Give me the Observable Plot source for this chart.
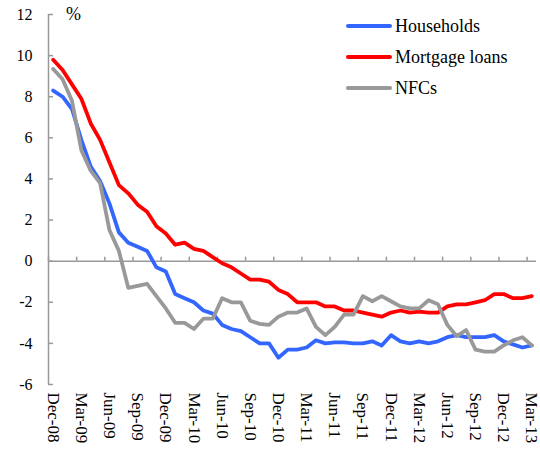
<!DOCTYPE html>
<html>
<head>
<meta charset="utf-8">
<script src="https://cdn.jsdelivr.net/npm/d3@7"></script>
<script src="https://cdn.jsdelivr.net/npm/@observablehq/plot@0.6"></script>
<style>
  html, body { margin: 0; padding: 0; background: #fff; }
  #wrap { position: relative; width: 540px; height: 450px; font-family: "Liberation Serif", "Times New Roman", serif; color: #000; }
  #wrap svg { display: block; }
  .unit { position: absolute; left: 66px; top: 3px; font-size: 18px; line-height: 22px; }
  .legend { position: absolute; left: 346px; top: 10.5px; font-size: 18px; }
  .legend .row { display: flex; align-items: center; height: 31px; line-height: 31px; }
  .legend .sw { width: 46px; height: 4px; border-radius: 2px; margin-right: 3px; }
</style>
</head>
<body>
<div id="wrap"></div>
<script>
// Month tick labels (every third month, Dec-08 .. Mar-13)
const tickLabels = ["Dec-08","Mar-09","Jun-09","Sep-09","Dec-09","Mar-10","Jun-10","Sep-10","Dec-10",
                    "Mar-11","Jun-11","Sep-11","Dec-11","Mar-12","Jun-12","Sep-12","Dec-12","Mar-13"];
const yTicks = [-6, -4, -2, 0, 2, 4, 6, 8, 10, 12];
const seriesNames = ["Households", "Mortgage loans", "NFCs"];
const seriesColors = ["#3366ff", "#ff0000", "#999999"];

// Monthly values, Dec-08 .. Mar-13 (52 months), %
const households = [8.3, 8.0, 7.4, 5.9, 4.6, 3.9, 2.8, 1.4, 0.9, 0.7,
                    0.5, -0.3, -0.5, -1.6, -1.8, -2.0, -2.4, -2.55, -3.1, -3.3,
                    -3.4, -3.7, -4.0, -4.0, -4.7, -4.3, -4.3, -4.2, -3.85, -4.0,
                    -3.95, -3.95, -4.0, -4.0, -3.9, -4.1, -3.6, -3.9, -4.0, -3.9,
                    -4.0, -3.9, -3.7, -3.6, -3.7, -3.7, -3.7, -3.6, -3.9, -4.05,
                    -4.2, -4.1];
const mortgage = [9.8, 9.3, 8.6, 7.9, 6.7, 5.9, 4.8, 3.7, 3.3, 2.75,
                  2.4, 1.7, 1.35, 0.8, 0.9, 0.6, 0.5, 0.2, -0.1, -0.3,
                  -0.6, -0.9, -0.9, -1.0, -1.4, -1.6, -2.0, -2.0, -2.0, -2.2,
                  -2.2, -2.4, -2.4, -2.5, -2.6, -2.7, -2.5, -2.4, -2.5, -2.45,
                  -2.5, -2.5, -2.2, -2.1, -2.1, -2.0, -1.9, -1.6, -1.6, -1.8,
                  -1.8, -1.7];
const nfcs = [9.35, 8.85, 7.8, 5.4, 4.4, 3.8, 1.5, 0.5, -1.3, -1.2,
              -1.1, -1.7, -2.3, -3.0, -3.0, -3.3, -2.8, -2.8, -1.8, -2.0,
              -2.0, -2.9, -3.05, -3.1, -2.7, -2.5, -2.5, -2.3, -3.2, -3.6,
              -3.2, -2.6, -2.6, -1.7, -1.95, -1.7, -1.95, -2.2, -2.3, -2.3,
              -1.9, -2.1, -3.1, -3.65, -3.35, -4.3, -4.4, -4.4, -4.1, -3.85,
              -3.7, -4.1];

const seriesValues = [households, mortgage, nfcs];
const rows = seriesValues.flatMap((vals, s) => vals.map((v, i) => ({i, value: v, series: seriesNames[s]})));
const n = households.length;
const tickIdx = tickLabels.map((_, k) => k * 3);
const tickBounds = tickIdx.map(k => k - 0.5);
const axisColor = "#999999";

const chart = Plot.plot({
  width: 540,
  height: 450,
  marginLeft: 48,
  marginRight: 4,
  marginTop: 14,
  marginBottom: 66,
  x: {domain: [-0.5, n - 0.5]},
  y: {domain: [-6, 12]},
  color: {domain: seriesNames, range: seriesColors},
  style: {fontFamily: "'Liberation Serif', 'Times New Roman', serif", color: "#000", background: "white", overflow: "visible"},
  marks: [
    Plot.axisY({ticks: yTicks, tickSize: 0, tickPadding: 16, tickFormat: d => String(d), fontSize: 16, label: null}),
    Plot.axisX({ticks: tickIdx, tickSize: 0, tickPadding: 8, tickRotate: 90, tickFormat: d => tickLabels[d / 3], fontSize: 17, label: null}),
    Plot.ruleX([-0.5], {stroke: axisColor, strokeWidth: 1.5}),
    Plot.ruleY(yTicks, {x1: -0.5, x2: -0.5, insetRight: -5, stroke: axisColor, strokeWidth: 1.5}),
    Plot.ruleY([0], {stroke: axisColor, strokeWidth: 1.5}),
    Plot.ruleX(tickBounds, {y1: 0, y2: 0, insetTop: -4, stroke: axisColor, strokeWidth: 1.5}),
    Plot.line(rows, {x: "i", y: "value", z: "series", stroke: "series", strokeWidth: 3.8, strokeLinejoin: "round", strokeLinecap: "round"})
  ]
});

const wrap = document.getElementById("wrap");
wrap.appendChild(chart);

const unit = document.createElement("div");
unit.className = "unit";
unit.textContent = "%";
wrap.appendChild(unit);

const legend = document.createElement("div");
legend.className = "legend";
seriesNames.forEach((name, k) => {
  const row = document.createElement("div");
  row.className = "row";
  const sw = document.createElement("span");
  sw.className = "sw";
  sw.style.background = seriesColors[k];
  const t = document.createElement("span");
  t.textContent = name;
  row.appendChild(sw);
  row.appendChild(t);
  legend.appendChild(row);
});
wrap.appendChild(legend);
</script>
</body>
</html>
